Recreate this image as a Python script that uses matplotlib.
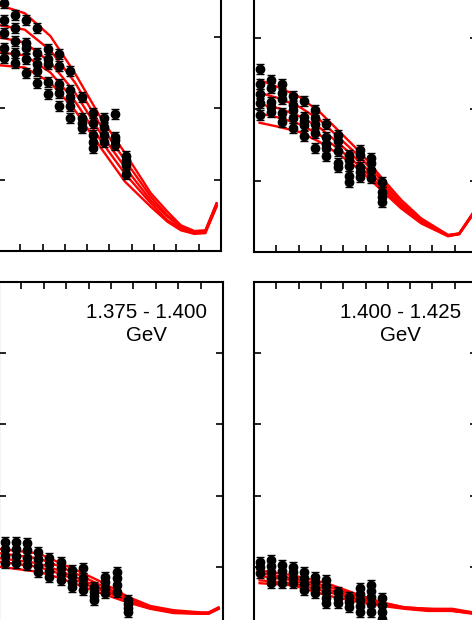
import numpy as np
import matplotlib
matplotlib.use("Agg")
import matplotlib.pyplot as plt

plt.rcParams['font.family'] = ['Liberation Sans', 'DejaVu Sans']

# angular bins of the data columns (same in every panel)
x_cols = [-0.95, -0.85, -0.75, -0.65, -0.55, -0.45, -0.35, -0.25, -0.15, -0.05, 0.05, 0.15]

# ---- top left panel
tl_pts = [
    [3.48, 3.24, 3.05, 2.84, 2.70],
    [3.31, 3.13, 2.94, 2.78, 2.63],
    [3.24, 2.92, 2.85, 2.69, 2.49],
    [3.12, 2.78, 2.62, 2.52, 2.35],
    [2.83, 2.69, 2.62, 2.36, 2.20],
    [2.76, 2.59, 2.34, 2.21, 2.03],
    [2.52, 2.25, 2.15, 2.03, 1.86],
    [2.15, 1.86, 1.79, 1.72],
    [1.93, 1.79, 1.62, 1.52, 1.44],
    [1.86, 1.73, 1.62, 1.52],
    [1.92, 1.59, 1.55, 1.48],
    [1.33, 1.27, 1.20, 1.08],
]
tl_cx = [-0.98, -0.76, -0.53, -0.31, -0.08, 0.14, 0.37, 0.52, 0.64, 0.76, 0.86, 0.96]
tl_curves = [
    [3.44, 3.33, 3.01, 2.49, 1.87, 1.37, 0.81, 0.55, 0.36, 0.28, 0.29, 0.67],
    [3.16, 3.10, 2.81, 2.36, 1.76, 1.27, 0.76, 0.50, 0.35, 0.27, 0.28, 0.66],
    [2.99, 2.92, 2.64, 2.22, 1.65, 1.17, 0.71, 0.48, 0.34, 0.25, 0.27, 0.64],
    [2.78, 2.74, 2.50, 2.10, 1.55, 1.08, 0.67, 0.43, 0.32, 0.25, 0.27, 0.63],
    [2.60, 2.57, 2.36, 1.97, 1.45, 0.97, 0.62, 0.41, 0.29, 0.24, 0.25, 0.62],
]

# ---- top right panel
tr_pts = [
    [2.57, 2.35, 2.21, 2.08, 1.92],
    [2.41, 2.29, 2.10, 2.03, 1.96],
    [2.35, 2.22, 2.14, 1.94, 1.82],
    [2.18, 2.06, 1.99, 1.87, 1.73],
    [2.11, 1.89, 1.83, 1.78, 1.62],
    [1.99, 1.87, 1.79, 1.66, 1.45],
    [1.79, 1.61, 1.51, 1.45, 1.34],
    [1.64, 1.55, 1.41, 1.24, 1.19],
    [1.36, 1.29, 1.20, 1.06, 0.98],
    [1.43, 1.36, 1.19, 1.12, 1.05],
    [1.31, 1.24, 1.15, 1.03],
    [0.98, 0.84, 0.77, 0.70],
]
tr_cx = [-0.95, -0.77, -0.59, -0.41, -0.23, -0.05, 0.14, 0.32, 0.50, 0.74, 0.84, 0.96]
tr_curves = [
    [2.41, 2.30, 2.17, 1.96, 1.68, 1.40, 1.05, 0.73, 0.47, 0.24, 0.26, 0.54],
    [2.23, 2.15, 2.03, 1.85, 1.59, 1.33, 1.01, 0.69, 0.45, 0.23, 0.26, 0.53],
    [2.07, 2.01, 1.90, 1.74, 1.51, 1.26, 0.96, 0.66, 0.43, 0.23, 0.25, 0.53],
    [1.94, 1.88, 1.79, 1.64, 1.43, 1.20, 0.91, 0.63, 0.41, 0.23, 0.25, 0.52],
    [1.81, 1.75, 1.68, 1.54, 1.36, 1.15, 0.87, 0.61, 0.40, 0.22, 0.25, 0.52],
]

# ---- bottom left panel (1.375 - 1.400 GeV)
bl_pts = [
    [1.35, 1.25, 1.15, 1.05],
    [1.35, 1.25, 1.15, 1.05],
    [1.33, 1.23, 1.12, 1.02],
    [1.21, 1.11, 1.01, 0.93],
    [1.12, 1.04, 0.94, 0.86],
    [1.07, 0.98, 0.90, 0.81],
    [0.95, 0.87, 0.79, 0.72],
    [0.98, 0.84, 0.76, 0.67],
    [0.72, 0.65, 0.59, 0.53],
    [0.86, 0.79, 0.70, 0.63],
    [0.93, 0.84, 0.74, 0.65],
    [0.53, 0.48, 0.42, 0.36],
]
bl_cx = [-0.99, -0.65, -0.45, -0.25, -0.09, 0.15, 0.35, 0.56, 0.80, 0.87, 0.96]
bl_curves = [
    [1.25, 1.19, 1.05, 0.91, 0.79, 0.58, 0.45, 0.39, 0.36, 0.36, 0.43],
    [1.19, 1.12, 1.00, 0.86, 0.74, 0.56, 0.43, 0.38, 0.35, 0.35, 0.42],
    [1.12, 1.05, 0.94, 0.81, 0.70, 0.55, 0.42, 0.36, 0.35, 0.35, 0.42],
    [1.07, 1.00, 0.90, 0.77, 0.67, 0.53, 0.42, 0.36, 0.34, 0.34, 0.41],
    [1.00, 0.93, 0.84, 0.72, 0.63, 0.50, 0.41, 0.35, 0.34, 0.34, 0.41],
]

# ---- bottom right panel (1.400 - 1.425 GeV)
br_pts = [
    [1.07, 1.00, 0.91],
    [1.09, 1.01, 0.93, 0.84, 0.77],
    [1.02, 0.94, 0.86, 0.77],
    [1.00, 0.93, 0.84, 0.77],
    [0.93, 0.84, 0.76, 0.67],
    [0.86, 0.79, 0.70, 0.63],
    [0.81, 0.73, 0.65, 0.56, 0.49],
    [0.65, 0.56, 0.49],
    [0.58, 0.50, 0.43],
    [0.70, 0.62, 0.53, 0.45, 0.36],
    [0.74, 0.66, 0.58, 0.48, 0.36],
    [0.56, 0.46, 0.36, 0.27],
]
br_cx = [-0.95, -0.65, -0.35, -0.05, 0.15, 0.35, 0.56, 0.78, 0.96]
br_curves = [
    [0.95, 0.88, 0.77, 0.60, 0.50, 0.43, 0.41, 0.41, 0.36],
    [0.91, 0.84, 0.73, 0.58, 0.49, 0.43, 0.41, 0.39, 0.36],
    [0.87, 0.81, 0.69, 0.55, 0.48, 0.42, 0.39, 0.39, 0.35],
    [0.81, 0.77, 0.65, 0.53, 0.46, 0.42, 0.39, 0.38, 0.35],
    [0.77, 0.74, 0.60, 0.50, 0.45, 0.41, 0.38, 0.38, 0.34],
]

W, H = 472, 620
fig = plt.figure(figsize=(W / 100, H / 100), dpi=100)


def panel(rect_px, pts, cx, curves, label=None, err=0.07):
    # rect_px = (left, top, right, bottom) in pixels of the figure
    l, t, r, b = rect_px
    ax = fig.add_axes([l / W, (H - b) / H, (r - l) / W, (b - t) / H])
    for c in curves:
        ax.plot(cx, c, color='red', lw=1.7, zorder=2)
    xs, ys = [], []
    for xc, col in zip(x_cols, pts):
        for v in col:
            xs.append(xc)
            ys.append(v)
    ax.errorbar(xs, ys, yerr=err, fmt='o', color='black', ms=6.0,
                elinewidth=1.0, capsize=2.6, capthick=1.0, zorder=3)
    ax.set_xlim(-1, 1)
    ax.set_ylim(0, 5)
    ax.set_xticks(np.arange(-1, 1.01, 0.2))
    ax.set_yticks(np.arange(0, 5.01, 1))
    ax.tick_params(direction='in', top=True, right=True, length=5, width=1.2,
                   labelbottom=False, labelleft=False)
    for s in ax.spines.values():
        s.set_linewidth(1.5)
    if label:
        ax.text(0.657, 0.942, label, transform=ax.transAxes, ha='center',
                va='top', fontsize=14.8, multialignment='center', linespacing=1.27)
    return ax


panel((-2, -106, 221, 251), tl_pts, tl_cx, tl_curves)
panel((254, -105, 477, 252), tr_pts, tr_cx, tr_curves)
panel((-1, 282, 223, 638), bl_pts, bl_cx, bl_curves, "1.375 - 1.400\nGeV")
panel((254, 282, 477, 638), br_pts, br_cx, br_curves, "1.400 - 1.425\nGeV")

fig.savefig("out.png", dpi=100)
